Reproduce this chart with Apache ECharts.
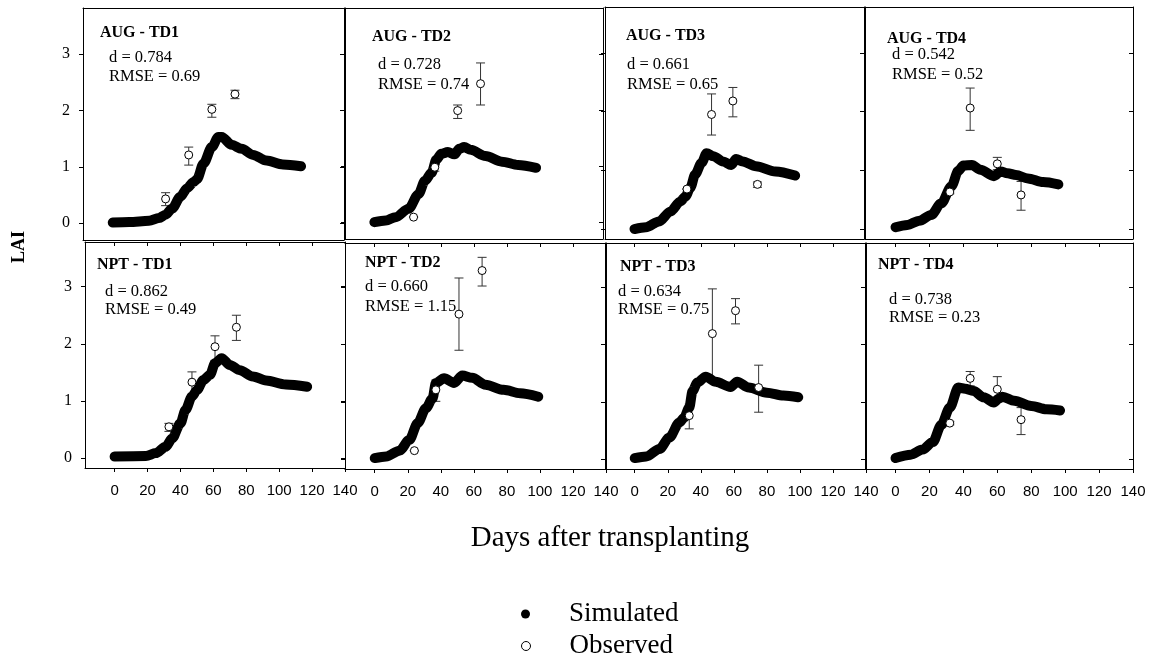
<!DOCTYPE html>
<html>
<head>
<meta charset="utf-8">
<script src="https://cdn.jsdelivr.net/npm/echarts@6/dist/echarts.min.js"></script>
<style>html,body{margin:0;padding:0;background:#fff;}#c{width:1152px;height:659px;}</style>
</head>
<body>
<div id="c"></div>
<script>
// ---- data (day, LAI) ----
const simAugTD1 = [[0,0.01],[10,0.02],[22,0.04],[28,0.09],[32,0.15],[36,0.26],[41,0.47],[45,0.62],[49,0.73],[51,0.78],[55,1.06],[60,1.35],[64,1.53],[66,1.53],[72,1.39],[78,1.32],[85,1.21],[93,1.11],[103,1.04],[114,1.01]];
const simAugTD2 = [[0,0.0],[7,0.03],[13,0.09],[21,0.24],[27,0.5],[31,0.74],[35,0.88],[38,1.12],[41,1.22],[45,1.25],[49,1.21],[52,1.31],[55,1.34],[59,1.29],[68,1.18],[78,1.08],[88,1.02],[99,0.97]];
const simAugTD3 = [[0,0.0],[7,0.03],[15,0.13],[22,0.3],[28,0.47],[31,0.55],[34,0.7],[37,0.93],[41,1.13],[44,1.29],[48,1.24],[54,1.15],[59,1.09],[62,1.19],[66,1.15],[74,1.07],[86,0.98],[98,0.91]];
const simAugTD4 = [[0,0.03],[7,0.07],[14,0.14],[21,0.24],[27,0.44],[33,0.73],[37,0.99],[40,1.08],[45,1.09],[50,1.01],[58,0.9],[62,0.98],[66,0.95],[71,0.92],[78,0.86],[87,0.8],[96,0.76]];
const simNptTD1 = [[0,0.03],[19,0.04],[25,0.09],[31,0.2],[35,0.35],[40,0.61],[43,0.84],[47,1.08],[50,1.19],[54,1.37],[58,1.46],[61,1.66],[65,1.75],[70,1.63],[76,1.54],[84,1.43],[92,1.36],[104,1.29],[117,1.25]];
const simNptTD2 = [[0,0.02],[7,0.05],[15,0.15],[21,0.34],[26,0.63],[31,0.89],[35,1.06],[37,1.33],[42,1.41],[48,1.33],[53,1.46],[59,1.42],[67,1.3],[78,1.21],[88,1.15],[99,1.09]];
const simNptTD3 = [[0,0.02],[7,0.05],[15,0.18],[21,0.38],[27,0.64],[30,0.73],[33,0.9],[35,1.19],[38,1.34],[43,1.44],[49,1.35],[58,1.26],[62,1.35],[69,1.25],[80,1.16],[90,1.11],[99,1.08]];
const simNptTD4 = [[0,0.02],[9,0.08],[16,0.17],[22,0.3],[27,0.6],[32,0.9],[37,1.25],[41,1.23],[46,1.19],[52,1.08],[58,0.99],[61,1.06],[63,1.09],[70,1.02],[80,0.93],[89,0.87],[97,0.85]];

// observed: [day, LAI, low, high]
const obsAugTD1 = [[32,0.43,0.31,0.54],[46,1.21,1.03,1.35],[60,2.02,1.88,2.11],[74,2.29,2.21,2.36]];
const obsAugTD2 = [[24,0.09,0.09,0.09],[37,0.98,0.91,1.03],[51,1.99,1.85,2.09],[65,2.47,2.09,2.84]];
const obsAugTD3 = [[32,0.68,0.68,0.68],[47,1.95,1.6,2.3],[60,2.18,1.91,2.41],[75,0.76,0.71,0.8]];
const obsAugTD4 = [[32,0.63,0.6,0.66],[44,2.06,1.68,2.4],[60,1.11,1.01,1.22],[74,0.58,0.32,0.81]];
const obsNptTD1 = [[33,0.55,0.47,0.61],[47,1.33,1.12,1.51],[61,1.95,1.71,2.14],[74,2.29,2.06,2.5]];
const obsNptTD2 = [[24,0.15,0.15,0.15],[37,1.21,1.01,1.38],[51,2.53,1.9,3.16],[65,3.29,3.02,3.52]];
const obsNptTD3 = [[33,0.76,0.53,0.96],[47,2.19,1.41,2.97],[61,2.59,2.36,2.8],[75,1.25,0.82,1.64]];
const obsNptTD4 = [[32,0.63,0.6,0.66],[44,1.41,1.28,1.53],[60,1.22,1.08,1.44],[74,0.69,0.43,0.9]];

const panelTitles = ['AUG - TD1','AUG - TD2','AUG - TD3','AUG - TD4','NPT - TD1','NPT - TD2','NPT - TD3','NPT - TD4'];
const dStats = ['d = 0.784','d = 0.728','d = 0.661','d = 0.542','d = 0.862','d = 0.660','d = 0.634','d = 0.738'];
const rmseStats = ['RMSE = 0.69','RMSE = 0.74','RMSE = 0.65','RMSE = 0.52','RMSE = 0.49','RMSE = 1.15','RMSE = 0.75','RMSE = 0.23'];
const xTickValues = [0,20,40,60,80,100,120,140];
const yTickValues = [0,1,2,3];
const xTitle = 'Days after transplanting';
const yTitle = 'LAI';
const legendNames = ['Simulated','Observed'];

const simAll = [simAugTD1,simAugTD2,simAugTD3,simAugTD4,simNptTD1,simNptTD2,simNptTD3,simNptTD4];
const obsAll = [obsAugTD1,obsAugTD2,obsAugTD3,obsAugTD4,obsNptTD1,obsNptTD2,obsNptTD3,obsNptTD4];

// ---- layout ----
const grids = [
  {left:83, top:8, width:261, height:232},
  {left:345, top:8, width:258, height:231},
  {left:605, top:7, width:259, height:232},
  {left:865, top:7, width:268, height:232},
  {left:85, top:242, width:260, height:226},
  {left:345, top:243, width:261, height:226},
  {left:605, top:243, width:261, height:226},
  {left:865, top:243, width:268, height:226}
];
const yRanges = [[-0.3,3.82],[-0.3,3.82],[-0.17,3.78],[-0.17,3.78],[-0.17,3.78],[-0.17,3.77],[-0.17,3.77],[-0.17,3.77]];
const titlePos = [[100,33],[372,37],[626,36],[887,39],[97,265],[365,263],[620,267],[878,265]];
const statPos = [[109,58,77],[378,65,85],[627,65,85],[892,55,75],[105,292,310],[365,287,307],[618,292,310],[889,300,318]];

const serif = '"Liberation Serif","Times New Roman",serif';
const sans = '"Liberation Sans",Arial,sans-serif';
const axisCol = '#000';

const xAxes = [], yAxes = [], series = [], graphics = [];
for (let i = 0; i < 8; i++) {
  const row = i < 4 ? 0 : 1, col = i % 4;
  xAxes.push({
    gridIndex:i, type:'value', min:-18, max:140, position:'bottom',
    axisLine:{show:true, onZero:false, lineStyle:{color:axisCol, width:1}},
    axisTick:{show:row===1, inside:false, length:4, customValues:xTickValues, lineStyle:{color:axisCol}},
    axisLabel:{show:row===1, customValues:xTickValues, fontFamily:sans, fontSize:15, color:'#000', margin:15},
    splitLine:{show:false}
  });
  xAxes.push({
    gridIndex:i, type:'value', min:-18, max:140, position:'top',
    axisLine:{show:true, onZero:false, lineStyle:{color:axisCol, width:1}},
    axisTick:{show:row===1, inside:true, length:4, customValues:xTickValues, lineStyle:{color:axisCol}},
    axisLabel:{show:false}, splitLine:{show:false}
  });
  yAxes.push({
    gridIndex:i, type:'value', min:yRanges[i][0], max:yRanges[i][1], position:'left',
    axisLine:{show:true, onZero:false, lineStyle:{color:axisCol, width:1}},
    axisTick:{show:true, inside:false, length:4, customValues:yTickValues, lineStyle:{color:axisCol}},
    axisLabel:{show:col===0, customValues:yTickValues, fontFamily:serif, fontSize:16, color:'#000', margin:13},
    splitLine:{show:false}
  });
  yAxes.push({
    gridIndex:i, type:'value', min:yRanges[i][0], max:yRanges[i][1], position:'right',
    axisLine:{show:true, onZero:false, lineStyle:{color:axisCol, width:1}},
    axisTick:{show:true, inside:true, length:4, customValues:yTickValues, lineStyle:{color:axisCol}},
    axisLabel:{show:false}, splitLine:{show:false}
  });

  series.push({
    type:'custom', name:'err'+i, xAxisIndex:2*i, yAxisIndex:2*i, z:2, silent:true,
    data: obsAll[i].map(o => [o[0], o[2], o[3]]),
    encode:{x:0, y:[1,2]},
    renderItem:function(params, api){
      const lo = api.coord([api.value(0), api.value(1)]);
      const hi = api.coord([api.value(0), api.value(2)]);
      const hw = 4.5;
      const st = {stroke:'#333', lineWidth:1};
      return {type:'group', children:[
        {type:'line', shape:{x1:lo[0], y1:lo[1], x2:hi[0], y2:hi[1]}, style:st},
        {type:'line', shape:{x1:lo[0]-hw, y1:lo[1], x2:lo[0]+hw, y2:lo[1]}, style:st},
        {type:'line', shape:{x1:hi[0]-hw, y1:hi[1], x2:hi[0]+hw, y2:hi[1]}, style:st}
      ]};
    }
  });
  series.push({
    type:'line', name:'Simulated', xAxisIndex:2*i, yAxisIndex:2*i, z:3,
    data: simAll[i], showSymbol:false, symbol:'circle', smooth:0.3, smoothMonotone:'x',
    lineStyle:{color:'#000', width:10, cap:'round', join:'round'},
    itemStyle:{color:'#000'}, silent:true
  });
  series.push({
    type:'scatter', name:'Observed', xAxisIndex:2*i, yAxisIndex:2*i, z:4,
    data: obsAll[i].map(o => [o[0], o[1]]),
    symbol:'circle', symbolSize:8,
    itemStyle:{color:'#fff', borderColor:'#000', borderWidth:1, opacity:1}, silent:true
  });

  graphics.push({type:'text', x:titlePos[i][0], y:titlePos[i][1], z:10,
    style:{text:panelTitles[i], font:'bold 16px '+serif, fill:'#000', align:'left', verticalAlign:'middle'}});
  graphics.push({type:'text', x:statPos[i][0], y:statPos[i][1], z:10,
    style:{text:dStats[i], font:'16.5px '+serif, fill:'#000', align:'left', verticalAlign:'middle'}});
  graphics.push({type:'text', x:statPos[i][0], y:statPos[i][2], z:10,
    style:{text:rmseStats[i], font:'16.5px '+serif, fill:'#000', align:'left', verticalAlign:'middle'}});
}

graphics.push({type:'text', x:19, y:247, rotation:Math.PI/2, z:10,
  style:{text:yTitle, font:'bold 18px '+serif, fill:'#000', align:'center', verticalAlign:'middle'}});
graphics.push({type:'text', x:610, y:538, z:10,
  style:{text:xTitle, font:'29px '+serif, fill:'#000', align:'center', verticalAlign:'middle'}});

const legendText = {fontFamily:serif, fontSize:27, color:'#000', lineHeight:30, padding:[0,0,0,34]};
const chart = echarts.init(document.getElementById('c'), null, {renderer:'canvas'});
chart.setOption({
  animation:false,
  backgroundColor:'#fff',
  grid: grids.map(g => Object.assign({containLabel:false, outerBoundsMode:'none', show:false}, g)),
  xAxis: xAxes,
  yAxis: yAxes,
  legend:[
    {left:516, top:594, selectedMode:false, itemWidth:9, itemHeight:9,
     data:[{name:legendNames[0], icon:'circle', itemStyle:{color:'#000', borderWidth:0}}],
     textStyle:legendText},
    {left:516, top:626, selectedMode:false, itemWidth:9, itemHeight:9,
     data:[{name:legendNames[1], icon:'circle', itemStyle:{color:'#fff', borderColor:'#000', borderWidth:1}}],
     textStyle:legendText}
  ],
  series: series,
  graphic: graphics
});
</script>
</body>
</html>
